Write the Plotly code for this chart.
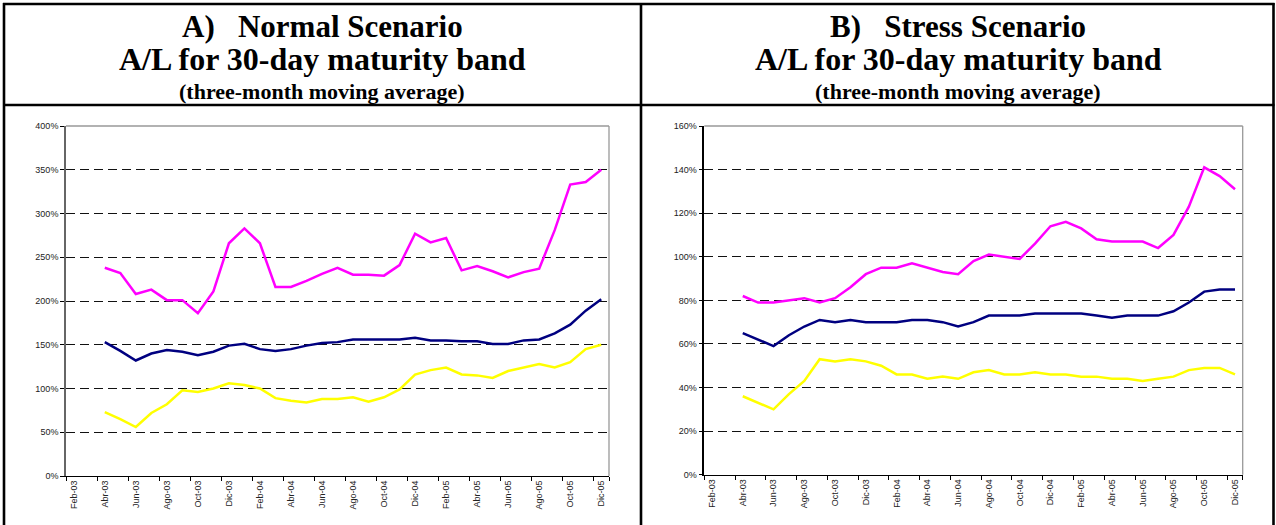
import plotly.graph_objects as go

months = ["Feb-03", "Mar-03", "Abr-03", "May-03", "Jun-03", "Jul-03", "Ago-03", "Sep-03",
          "Oct-03", "Nov-03", "Dic-03", "Ene-04", "Feb-04", "Mar-04", "Abr-04", "May-04",
          "Jun-04", "Jul-04", "Ago-04", "Sep-04", "Oct-04", "Nov-04", "Dic-04", "Ene-05",
          "Feb-05", "Mar-05", "Abr-05", "May-05", "Jun-05", "Jul-05", "Ago-05", "Sep-05",
          "Oct-05", "Nov-05", "Dic-05"]
data_months = months[2:]
tick_labels = months[::2]

# Panel A - Normal scenario (%)
normal_magenta = [238, 232, 208, 213, 201, 201, 186, 211, 266, 283, 266, 216, 216, 223, 231,
                  238, 230, 230, 229, 241, 277, 267, 272, 235, 240, 234, 227, 233, 237, 281,
                  333, 336, 350]
normal_navy = [153, 143, 132, 140, 144, 142, 138, 142, 149, 151, 145, 143, 145, 149, 152,
               153, 156, 156, 156, 156, 158, 155, 155, 154, 154, 151, 151, 155, 156, 163,
               173, 189, 202]
normal_yellow = [73, 65, 56, 72, 82, 98, 96, 100, 106, 104, 100, 89, 86, 84, 88,
                 88, 90, 85, 90, 99, 116, 121, 124, 116, 115, 112, 120, 124, 128, 124,
                 130, 145, 150]

# Panel B - Stress scenario (%)
stress_magenta = [82, 79, 79, 80, 81, 79, 81, 86, 92, 95, 95, 97, 95, 93, 92,
                  98, 101, 100, 99, 106, 114, 116, 113, 108, 107, 107, 107, 104, 110, 123,
                  141, 137, 131]
stress_navy = [65, 62, 59, 64, 68, 71, 70, 71, 70, 70, 70, 71, 71, 70, 68,
               70, 73, 73, 73, 74, 74, 74, 74, 73, 72, 73, 73, 73, 75, 79,
               84, 85, 85]
stress_yellow = [36, 33, 30, 37, 43, 53, 52, 53, 52, 50, 46, 46, 44, 45, 44,
                 47, 48, 46, 46, 47, 46, 46, 45, 45, 44, 44, 43, 44, 45, 48,
                 49, 49, 46]

W, H = 1276, 525

def px(x):
    return x / W

def py(y):
    return 1 - y / H

fig = go.Figure()

series = [
    (normal_magenta, "#FF00FF", "x", "y"),
    (normal_navy, "#000080", "x", "y"),
    (normal_yellow, "#FFFF00", "x", "y"),
    (stress_magenta, "#FF00FF", "x2", "y2"),
    (stress_navy, "#000080", "x2", "y2"),
    (stress_yellow, "#FFFF00", "x2", "y2"),
]
for vals, col, xa, ya in series:
    fig.add_trace(go.Scatter(x=data_months, y=[v / 100 for v in vals], mode="lines",
                             line=dict(color=col, width=2.5), xaxis=xa, yaxis=ya,
                             showlegend=False, hoverinfo="skip"))

tickfont = dict(family="Liberation Sans, Arial, sans-serif", size=9, color="#222")

def xaxis_cfg(domain):
    return dict(domain=domain, type="category", categoryorder="array", categoryarray=months,
                range=[-0.5, len(months) - 0.5], tickmode="array", tickvals=tick_labels,
                ticktext=tick_labels, tickson="boundaries", ticks="outside", ticklen=4,
                tickcolor="#000", tickangle=-90, tickfont=tickfont, showgrid=False,
                showline=True, linecolor="#000", linewidth=1, zeroline=False,
                automargin=False, fixedrange=True)

def yaxis_cfg(domain, rmax, dt, anchor, lc):
    return dict(domain=domain, range=[0, rmax], dtick=dt, tick0=0, tickformat=".0%",
                ticks="outside", ticklen=4, tickcolor="#000", tickfont=tickfont,
                showgrid=True, gridcolor="#111", gridwidth=1, griddash="9px,5px",
                showline=True, linecolor=lc, linewidth=1.6, zeroline=False,
                anchor=anchor, automargin=False, fixedrange=True)

fig.update_layout(
    width=W, height=H, margin=dict(l=0, r=0, t=0, b=0),
    paper_bgcolor="white", plot_bgcolor="white",
    xaxis=xaxis_cfg([px(66), px(609)]),
    yaxis=yaxis_cfg([py(476), py(126)], 4.0, 0.5, "x", "#666"),
    xaxis2=xaxis_cfg([px(704.3), px(1242.7)]),
    yaxis2=yaxis_cfg([py(474.7), py(126)], 1.6, 0.2, "x2", "#000"),
)
fig.update_layout(xaxis=dict(anchor="y"), xaxis2=dict(anchor="y2"))

shapes = []
# plot-area borders (top and right, gray)
for xr, yr in [("x domain", "y domain"), ("x2 domain", "y2 domain")]:
    shapes.append(dict(type="line", xref=xr, yref=yr, x0=0, x1=1, y0=1, y1=1,
                       line=dict(color="#999", width=1.3)))
    shapes.append(dict(type="line", xref=xr, yref=yr, x0=1, x1=1, y0=0, y1=1,
                       line=dict(color="#999", width=1.3)))
# table frame
bw = 2.6
shapes += [
    dict(type="line", xref="paper", yref="paper", x0=px(3), x1=px(1274.5), y0=py(4), y1=py(4),
         line=dict(color="#000", width=bw)),
    dict(type="line", xref="paper", yref="paper", x0=px(3), x1=px(1274.5), y0=py(105), y1=py(105),
         line=dict(color="#000", width=bw)),
    dict(type="line", xref="paper", yref="paper", x0=px(4), x1=px(4), y0=py(3), y1=0,
         line=dict(color="#000", width=bw)),
    dict(type="line", xref="paper", yref="paper", x0=px(641), x1=px(641), y0=py(3), y1=0,
         line=dict(color="#000", width=bw)),
    dict(type="line", xref="paper", yref="paper", x0=px(1273.5), x1=px(1273.5), y0=py(3), y1=0,
         line=dict(color="#000", width=bw)),
]
fig.update_layout(shapes=shapes)

tf = "Liberation Serif, Times New Roman, serif"
titles = [
    (322, "A)\u00a0\u00a0\u00a0Normal Scenario"),
    (958, "B)\u00a0\u00a0\u00a0Stress Scenario"),
]
ann = []
for cx, t1 in titles:
    ann.append(dict(x=px(cx), y=py(26), xref="paper", yref="paper", text="<b>" + t1 + "</b>",
                    showarrow=False, xanchor="center", yanchor="middle",
                    font=dict(family=tf, size=31, color="#000")))
    ann.append(dict(x=px(cx), y=py(59), xref="paper", yref="paper",
                    text="<b>A/L for 30-day maturity band</b>",
                    showarrow=False, xanchor="center", yanchor="middle",
                    font=dict(family=tf, size=32, color="#000")))
    ann.append(dict(x=px(cx), y=py(91), xref="paper", yref="paper",
                    text="<b>(three-month moving average)</b>",
                    showarrow=False, xanchor="center", yanchor="middle",
                    font=dict(family=tf, size=22, color="#000")))
fig.update_layout(annotations=ann)

fig.write_html("out.html", config={"displayModeBar": False},
               post_script="document.body.style.margin='0';document.body.style.padding='0';")
